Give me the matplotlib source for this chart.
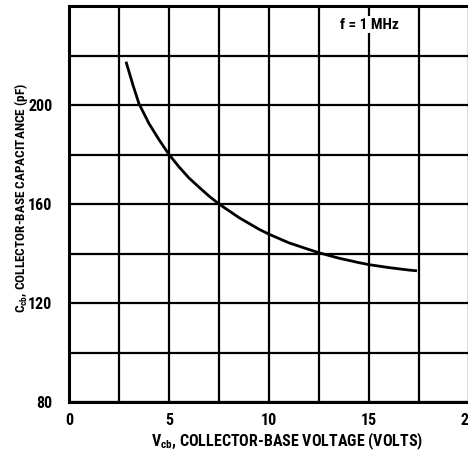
import matplotlib
matplotlib.use("Agg")
import matplotlib.pyplot as plt
from matplotlib import font_manager
from matplotlib.ticker import MultipleLocator


def resolve_font_family():
    candidates = ("Liberation Sans Narrow", "Roboto Condensed", "Nimbus Sans Narrow",
                  "Barlow Semi Condensed", "DejaVu Sans")
    available = {f.name for f in font_manager.fontManager.ttflist}
    for family in candidates:
        if family in available:
            return family
    return "DejaVu Sans"


FONT = resolve_font_family()
print("font:", FONT)
plt.rcParams.update({
    "font.family": [FONT, "DejaVu Sans"],
    "font.weight": "bold",
    "mathtext.fontset": "custom",
    "mathtext.rm": f"{FONT}:bold",
    "mathtext.it": f"{FONT}:bold",
    "mathtext.bf": f"{FONT}:bold",
})

# curve
vcb = [2.85, 3.2, 3.5, 4.0, 4.5, 5.0, 5.5, 6.0, 6.5, 7.0, 7.5, 8.5, 9.5, 10.0,
       11.0, 12.0, 12.5, 13.5, 14.5, 15.0, 16.0, 17.0, 17.4]
ccb = [217.5, 208.0, 200.5, 192.5, 186.0, 180.0, 175.0, 170.5, 166.8, 163.2,
       160.0, 154.5, 149.8, 147.8, 144.3, 141.6, 140.3, 138.1, 136.3, 135.5,
       134.3, 133.3, 133.0]

x_ticks = [0, 5, 10, 15, 20]
y_ticks = [80, 120, 160, 200]

fig = plt.figure(figsize=(4.68, 4.58), dpi=100, facecolor="white")
ax = fig.add_axes([69 / 468, 1 - 402 / 458, 400 / 468, 396 / 458])

ax.plot(vcb, ccb, color="black", linewidth=2.0, solid_capstyle="butt", zorder=3)

ax.set_xlim(0, 20)
ax.set_ylim(80, 240)
ax.set_xticks(x_ticks)
ax.set_yticks(y_ticks)
ax.xaxis.set_minor_locator(MultipleLocator(2.5))
ax.yaxis.set_minor_locator(MultipleLocator(20))
ax.grid(which="both", color="black", linewidth=1.6)
ax.set_axisbelow(True)
ax.tick_params(which="both", length=0, labelsize=11.5)
ax.tick_params(axis="x", pad=8)
ax.tick_params(axis="y", pad=12)
for spine in ax.spines.values():
    spine.set_linewidth(2.2)

ax.set_xlabel(r"V$_{\rm cb}$, COLLECTOR-BASE VOLTAGE (VOLTS)", fontsize=11.5,
              fontweight="bold")
ax.xaxis.set_label_coords(0.545, -0.072)
ax.set_ylabel(r"C$_{\rm cb}$, COLLECTOR-BASE CAPACITANCE (pF)", fontsize=9.5,
              fontweight="bold")
ax.yaxis.set_label_coords(-0.098, 0.515)

ax.text(15.0, 232.5, "f = 1 MHz", fontsize=11, fontweight="bold",
        ha="center", va="center",
        bbox=dict(facecolor="white", edgecolor="none", pad=1.0))

fig.savefig("out.png", dpi=100, facecolor="white")
